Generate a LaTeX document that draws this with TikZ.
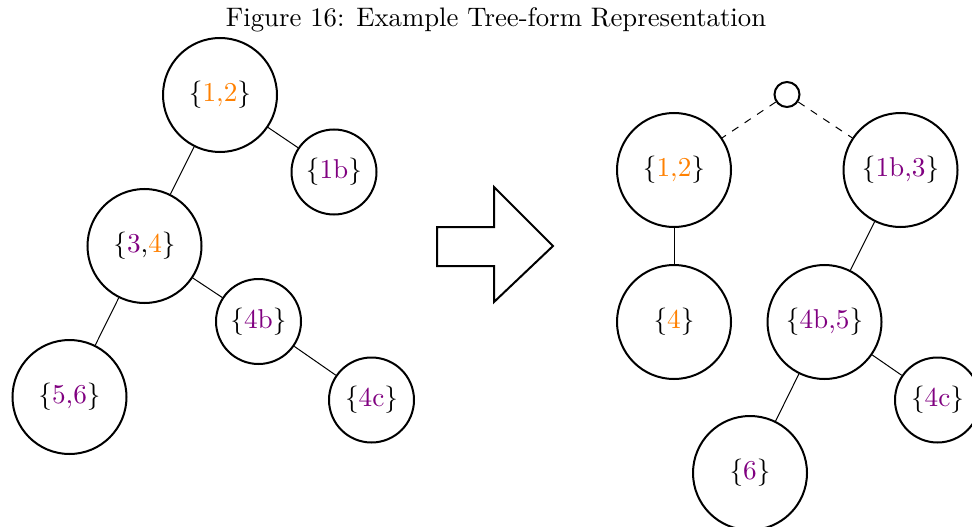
\documentclass[tikz,border=0pt]{standalone}
\usetikzlibrary{shapes.geometric}
\definecolor{setorange}{rgb}{1,0.5,0}
\definecolor{setpurple}{rgb}{0.5,0,0.5}
\begin{document}
\begin{tikzpicture}[x=0.4pt,y=-0.4pt,
  every node/.style={font=\fontsize{10.9pt}{13pt}\selectfont},
  big/.style={circle,draw,thick,minimum size=45.6pt,inner sep=0pt},
  small/.style={circle,draw,thick,minimum size=34pt,inner sep=0pt},
  dummy/.style={circle,draw,thick,minimum size=10pt,inner sep=0pt},
  link/.style={thin},
  dlink/.style={thin,dashed}]
\useasboundingbox (0,0) rectangle (972,526);
\newcommand{\Or}[1]{\textcolor{setorange}{#1}}
\newcommand{\Pu}[1]{\textcolor{setpurple}{#1}}
\node[font=\fontsize{10.7pt}{13pt}\selectfont] (title) at (496,20) {Figure 16: Example Tree-form Representation};
% left tree
\node[big] (l12) at (220,95) {\{\Or{1,2}\}};
\node[small] (l1b) at (334,172) {\{\Pu{1b}\}};
\node[big] (l34) at (144.5,246) {\{\Pu{3},\Or{4}\}};
\node[small] (l4b) at (258.5,321.5) {\{\Pu{4b}\}};
\node[big] (l56) at (69.5,397) {\{\Pu{5,6}\}};
\node[small] (l4c) at (371.5,400) {\{\Pu{4c}\}};
\draw[link] (l12) -- (l1b);
\draw[link] (l12) -- (l34);
\draw[link] (l34) -- (l4b);
\draw[link] (l34) -- (l56);
\draw[link] (l4b) -- (l4c);
% arrow
\draw[thick,line join=miter] (437,227) -- (494,227) -- (494,187) -- (553,246) -- (494,302) -- (494,266) -- (437,266) -- cycle;
% right tree
\node[dummy] (root) at (787,94.5) {};
\node[big] (r12) at (674,170) {\{\Or{1,2}\}};
\node[big] (r1b3) at (900.5,170) {\{\Pu{1b,3}\}};
\node[big] (r4) at (674,322) {\{\Or{4}\}};
\node[big] (r4b5) at (824.5,322) {\{\Pu{4b,5}\}};
\node[small] (r4c) at (937.5,400) {\{\Pu{4c}\}};
\node[big] (r6) at (750,473) {\{\Pu{6}\}};
\draw[dlink] (root) -- (r12);
\draw[dlink] (root) -- (r1b3);
\draw[link] (r12) -- (r4);
\draw[link] (r1b3) -- (r4b5);
\draw[link] (r4b5) -- (r4c);
\draw[link] (r4b5) -- (r6);
\end{tikzpicture}
\end{document}
